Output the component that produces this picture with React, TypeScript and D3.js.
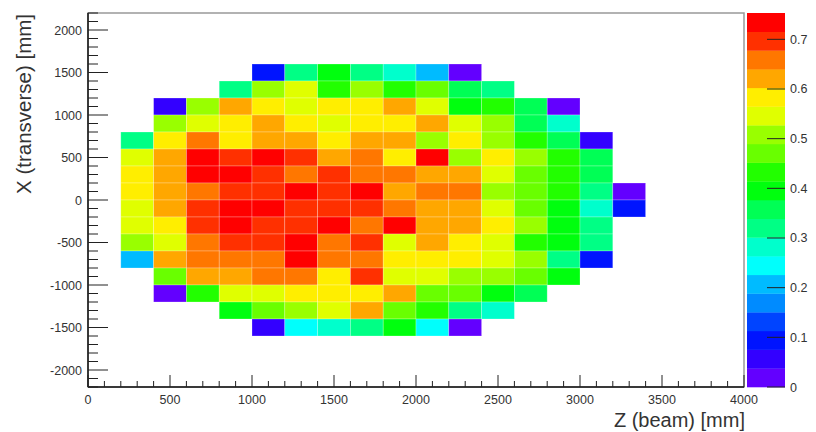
import React from 'react';
import * as d3 from 'd3';

// lower edges of the bins, 200 mm wide
const zBins = [200, 400, 600, 800, 1000, 1200, 1400, 1600, 1800, 2000, 2200, 2400, 2600, 2800, 3000, 3200];
const xBins = [1400, 1200, 1000, 800, 600, 400, 200, 0, -200, -400, -600, -800, -1000, -1200, -1400, -1600];
const binWidth = 200;

// one row per X bin (top to bottom), one entry per Z bin; null = empty bin
const row0 = [null, null, null, null, 0.094, 0.318, 0.402, 0.325, 0.283, 0.208, 0.021, null, null, null, null, null];
const row1 = [null, null, null, 0.322, 0.508, 0.547, 0.433, 0.512, 0.428, 0.472, 0.356, 0.318, null, null, null, null];
const row2 = [null, 0.058, 0.506, 0.622, 0.588, 0.552, 0.586, 0.593, 0.618, 0.548, 0.398, 0.431, 0.362, 0.018, null, null];
const row3 = [null, 0.511, 0.549, 0.584, 0.623, 0.591, 0.546, 0.587, 0.583, 0.625, 0.553, 0.507, 0.358, 0.282, null, null];
const row4 = [0.321, 0.588, 0.664, 0.586, 0.621, 0.617, 0.592, 0.624, 0.619, 0.506, 0.589, 0.513, 0.432, 0.362, 0.056, null];
const row5 = [0.548, 0.622, 0.742, 0.697, 0.746, 0.702, 0.618, 0.658, 0.591, 0.739, 0.509, 0.587, 0.508, 0.429, 0.358, null];
const row6 = [0.587, 0.619, 0.744, 0.737, 0.699, 0.662, 0.703, 0.657, 0.661, 0.623, 0.618, 0.551, 0.469, 0.433, 0.361, null];
const row7 = [0.592, 0.623, 0.659, 0.698, 0.704, 0.741, 0.696, 0.748, 0.617, 0.663, 0.658, 0.511, 0.472, 0.428, 0.319, 0.02];
const row8 = [0.551, 0.618, 0.701, 0.745, 0.753, 0.697, 0.702, 0.699, 0.664, 0.621, 0.624, 0.548, 0.468, 0.401, 0.279, 0.094];
const row9 = [0.546, 0.589, 0.697, 0.739, 0.703, 0.698, 0.743, 0.661, 0.744, 0.622, 0.618, 0.584, 0.512, 0.397, 0.322, null];
const row10 = [0.508, 0.553, 0.663, 0.701, 0.697, 0.738, 0.657, 0.702, 0.547, 0.621, 0.589, 0.552, 0.431, 0.402, 0.318, null];
const row11 = [0.207, 0.624, 0.662, 0.658, 0.664, 0.741, 0.659, 0.663, 0.586, 0.591, 0.588, 0.549, 0.509, 0.323, 0.097, null];
const row12 = [null, 0.471, 0.619, 0.623, 0.657, 0.661, 0.588, 0.699, 0.553, 0.549, 0.512, 0.507, 0.469, 0.398, null, null];
const row13 = [null, 0.019, 0.432, 0.548, 0.551, 0.587, 0.592, 0.589, 0.622, 0.468, 0.473, 0.403, 0.357, null, null, null];
const row14 = [null, null, null, 0.399, 0.467, 0.509, 0.553, 0.618, 0.471, 0.429, 0.321, 0.284, null, null, null, null];
const row15 = [null, null, null, null, 0.058, 0.248, 0.281, 0.319, 0.402, 0.251, 0.022, null, null, null, null, null];
const rows = [row0, row1, row2, row3, row4, row5, row6, row7, row8, row9, row10, row11, row12, row13, row14, row15];

const zTicks = [0, 500, 1000, 1500, 2000, 2500, 3000, 3500, 4000];
const xTicks = [-2000, -1500, -1000, -500, 0, 500, 1000, 1500, 2000];
const colorTicks = [0, 0.1, 0.2, 0.3, 0.4, 0.5, 0.6, 0.7];

const FONT = '"Liberation Sans", Arial, Helvetica, sans-serif';
const nLevels = 20;

// ROOT "pretty" palette (violet -> red), 50 colours, picked per contour level
function levelColor(level: number) {
  const p = Math.floor(((level + 0.99) * 50) / nLevels);
  const hue = p >= 49 ? 0 : 280 - (p + 1) * 5.6;
  return d3.hsl(hue, 1, 0.5).formatHex();
}

export default function App() {
  const left = 88, right = 744, top = 13, bottom = 387;
  const barX0 = 747, barX1 = 785;

  const x = d3.scaleLinear().domain([0, 4000]).range([left, right]);
  const y = d3.scaleLinear().domain([-2200, 2200]).range([bottom, top]);

  const cells = rows.flatMap((r, i) => r.map((v, j) => ({ v, z: zBins[j], xb: xBins[i] }))).filter((d) => d.v !== null) as { v: number; z: number; xb: number }[];
  const zMax = d3.max(cells, (d) => d.v) as number;
  const c = d3.scaleLinear().domain([0, zMax]).range([bottom, top]);

  const levelOf = (v: number) => Math.min(nLevels - 1, Math.floor(0.01 + (v * nLevels) / zMax));

  const zMinor = d3.range(0, 4001, 100);
  const xMinor = d3.range(-2200, 2201, 100);
  const levels = d3.range(nLevels);

  return (
    <svg width={816} height={432} style={{ position: 'absolute', left: 0, top: 0, background: '#fff' }}>
      {/* cells */}
      <g>
        {cells.map((d, i) => (
          <rect
            key={i}
            x={x(d.z)}
            y={y(d.xb + binWidth)}
            width={x(d.z + binWidth) - x(d.z)}
            height={y(d.xb) - y(d.xb + binWidth)}
            fill={levelColor(levelOf(d.v))}
            stroke="rgba(255,255,255,0.35)"
            strokeWidth={0.7}
          />
        ))}
      </g>

      {/* frame */}
      <rect x={left} y={top} width={right - left} height={bottom - top} fill="none" stroke="#999" strokeWidth={1.5} />
      <line x1={left} x2={left} y1={top} y2={bottom} stroke="#111" strokeWidth={1.5} />
      <line x1={left} x2={right} y1={bottom} y2={bottom} stroke="#111" strokeWidth={1.5} />

      {/* x axis */}
      <g stroke="#222" strokeWidth={1}>
        {zMinor.map((t) => (
          <line key={t} x1={x(t)} x2={x(t)} y1={bottom} y2={bottom - (t % 500 === 0 ? 12 : 6)} />
        ))}
      </g>
      <g fontFamily={FONT} fontSize={12.5} fill="#333" textAnchor="middle">
        {zTicks.map((t) => (
          <text key={t} x={x(t)} y={404}>{t}</text>
        ))}
      </g>
      <text x={745} y={427} textAnchor="end" fontFamily={FONT} fontSize={20} fill="#333">Z (beam) [mm]</text>

      {/* y axis */}
      <g stroke="#222" strokeWidth={1}>
        {xMinor.map((t) => (
          <line key={t} x1={left} x2={left + (t % 500 === 0 ? 20 : 10)} y1={y(t)} y2={y(t)} />
        ))}
      </g>
      <g fontFamily={FONT} fontSize={12.5} fill="#333" textAnchor="end">
        {xTicks.map((t) => (
          <text key={t} x={82} y={y(t) + 4.5}>{t}</text>
        ))}
      </g>
      <text transform={`translate(31,${top + 1}) rotate(-90)`} textAnchor="end" fontFamily={FONT} fontSize={20.5} fill="#333">X (transverse) [mm]</text>

      {/* colour bar */}
      <g>
        {levels.map((k) => (
          <rect
            key={k}
            x={barX0}
            width={barX1 - barX0}
            y={c(((k + 1) * zMax) / nLevels)}
            height={c((k * zMax) / nLevels) - c(((k + 1) * zMax) / nLevels) + 0.3}
            fill={levelColor(k)}
          />
        ))}
      </g>
      <g stroke="#222" strokeWidth={1}>
        {colorTicks.map((t) => (
          <line key={t} x1={barX1} x2={barX1 - 18} y1={c(t)} y2={c(t)} />
        ))}
      </g>
      <g fontFamily={FONT} fontSize={12.5} fill="#333">
        {colorTicks.map((t) => (
          <text key={t} x={790} y={c(t) + 4.5}>{t}</text>
        ))}
      </g>
    </svg>
  );
}
